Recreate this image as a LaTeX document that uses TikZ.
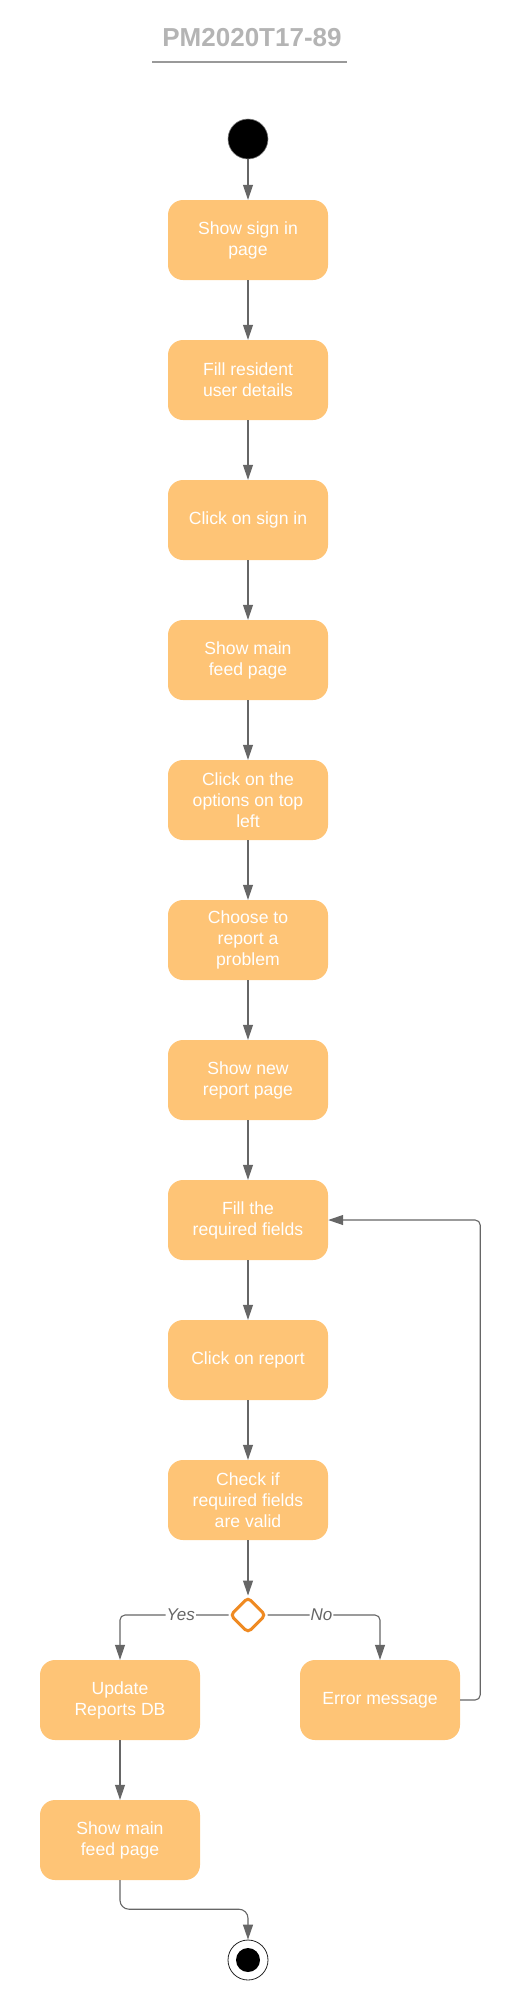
\documentclass[tikz,border=0pt]{standalone}
\usepackage{fontspec}
\setmainfont{Liberation Sans}
\usetikzlibrary{arrows.meta,positioning,shapes.geometric}
\definecolor{actfill}{RGB}{254,196,118}
\definecolor{decorange}{RGB}{239,138,34}
\definecolor{linegray}{RGB}{102,102,102}
\definecolor{titlegray}{RGB}{180,180,180}

\begin{document}
\begin{tikzpicture}[x=1pt,y=-1pt,
    act/.style={fill=actfill,rounded corners=15pt,minimum width=160pt,minimum height=80pt,
        text=white,align=center,font=\fontsize{17.6}{21}\selectfont},
    flow/.style={draw=linegray,line width=1.1pt,rounded corners=5pt,-{Triangle[length=15pt,width=10pt]}},
    lbl/.style={fill=white,inner sep=1pt,text=linegray,font=\fontsize{17}{20}\selectfont\itshape}]
    \useasboundingbox (0,0) rectangle (516,2000);

    % Title
    \node[text=titlegray,font=\fontsize{26}{30}\selectfont\bfseries] (title) at (252,38) {PM2020T17-89};
    \draw[titlegray!85!black,line width=1.5pt] (152,62) -- (347,62);

    % Start
    \node[circle,fill=black,draw=gray,line width=0.6pt,minimum size=40pt] (start) at (248,139) {};

    % Activities
    \node[act] (signpage) at (248,240) {Show sign in\\page};
    \node[act] (filluser) at (248,380) {Fill resident\\user details};
    \node[act] (clicksign) at (248,520) {Click on sign in};
    \node[act] (feed) at (248,660) {Show main\\feed page};
    \node[act] (options) at (248,800) {Click on the\\options on top\\left};
    \node[act] (choose) at (248,940) {Choose to\\report a\\problem};
    \node[act] (newrep) at (248,1080) {Show new\\report page};
    \node[act] (fields) at (248,1220) {Fill the\\required fields};
    \node[act] (clickrep) at (248,1360) {Click on report};
    \node[act] (check) at (248,1500) {Check if\\required fields\\are valid};

    % Decision
    \node[diamond,draw=decorange,fill=white,line width=3pt,rounded corners=4pt,
        minimum width=36pt,minimum height=36pt,inner sep=0pt] (valid) at (248,1615) {};

    \node[act] (update) at (120,1700) {Update\\Reports DB};
    \node[act] (error) at (380,1700) {Error message};
    \node[act] (feedend) at (120,1840) {Show main\\feed page};

    % End
    \node[circle,draw=black!85,line width=0.8pt,minimum size=40pt] (finish) at (248,1960) {};
    \fill (finish.center) circle (12pt);

    % Flow
    \draw[flow] (start) -- (signpage);
    \draw[flow] (signpage) -- (filluser);
    \draw[flow] (filluser) -- (clicksign);
    \draw[flow] (clicksign) -- (feed);
    \draw[flow] (feed) -- (options);
    \draw[flow] (options) -- (choose);
    \draw[flow] (choose) -- (newrep);
    \draw[flow] (newrep) -- (fields);
    \draw[flow] (fields) -- (clickrep);
    \draw[flow] (clickrep) -- (check);
    \draw[flow] (check) -- (valid);
    \draw[flow] (valid.west) -| node[lbl,pos=0.22] {Yes} (update.north);
    \draw[flow] (valid.east) -| node[lbl,pos=0.24] {No} (error.north);
    \draw[flow] (error.east) -- ++(20,0) |- (fields.east);
    \draw[flow] (update) -- (feedend);
    \draw[flow,rounded corners=9pt] (feedend.south) -- ++(0,29) -| (finish.north);
\end{tikzpicture}
\end{document}
